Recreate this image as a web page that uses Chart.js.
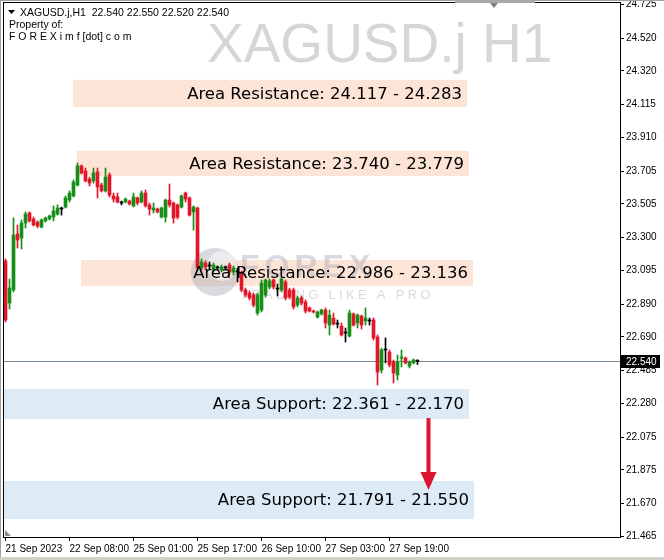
<!DOCTYPE html>
<html>
<head>
<meta charset="utf-8">
<title>XAGUSD.j H1</title>
<script src="https://cdn.jsdelivr.net/npm/chart.js@4.4.1/dist/chart.umd.min.js"></script>
<style>
  body { margin: 0; background: #fff; }
  #wrap { position: relative; width: 664px; height: 560px; }
</style>
</head>
<body>
<div id="wrap"><canvas id="chart"></canvas></div>
<script>
// H1 candles, oldest first (21 Sep 2023 16:00 -> 28 Sep 2023)
const openP = [
  23.155, 22.897, 22.977, 23.320, 23.295, 23.387, 23.449, 23.412, 23.393, 23.363,
  23.400, 23.412, 23.424, 23.442, 23.473, 23.485, 23.528, 23.553, 23.620, 23.737,
  23.706, 23.657, 23.645, 23.700, 23.620, 23.584, 23.681, 23.553, 23.547, 23.510,
  23.516, 23.522, 23.492, 23.541, 23.516, 23.571, 23.498, 23.467, 23.473, 23.424,
  23.424, 23.528, 23.510, 23.498, 23.485, 23.571, 23.541, 23.455, 23.479, 23.112,
  23.142, 23.124, 23.100, 23.112, 23.100, 23.112, 23.130, 23.087, 23.087, 23.081,
  22.977, 22.958, 22.946, 22.836, 22.854, 22.946, 22.995, 23.038, 22.983, 22.977,
  23.026, 22.977, 22.977, 22.885, 22.928, 22.903, 22.867, 22.848, 22.811, 22.830,
  22.854, 22.762, 22.805, 22.768, 22.756, 22.713, 22.695, 22.830, 22.775, 22.817,
  22.787, 22.787, 22.793, 22.689, 22.487, 22.609, 22.597, 22.536, 22.456, 22.560,
  22.560, 22.511, 22.530, 22.540
];
const highP = [
  23.167, 23.044, 23.418, 23.375, 23.406, 23.455, 23.455, 23.424, 23.400, 23.412,
  23.424, 23.436, 23.492, 23.498, 23.485, 23.553, 23.584, 23.651, 23.755, 23.743,
  23.724, 23.669, 23.724, 23.724, 23.632, 23.724, 23.694, 23.571, 23.571, 23.522,
  23.541, 23.528, 23.571, 23.547, 23.584, 23.590, 23.510, 23.510, 23.479, 23.485,
  23.534, 23.626, 23.516, 23.504, 23.559, 23.577, 23.547, 23.492, 23.485, 23.167,
  23.155, 23.148, 23.142, 23.124, 23.130, 23.124, 23.142, 23.124, 23.112, 23.093,
  22.989, 22.971, 22.958, 22.958, 23.038, 23.044, 23.044, 23.044, 23.013, 23.056,
  23.038, 22.989, 22.989, 22.940, 22.940, 22.916, 22.873, 22.854, 22.848, 22.860,
  22.867, 22.854, 22.836, 22.793, 22.775, 22.744, 22.854, 22.836, 22.830, 22.823,
  22.867, 22.805, 22.805, 22.701, 22.621, 22.683, 22.609, 22.548, 22.579, 22.609,
  22.566, 22.542, 22.554, 22.550
];
const lowP = [
  22.781, 22.860, 22.965, 23.234, 23.228, 23.357, 23.393, 23.369, 23.357, 23.357,
  23.393, 23.406, 23.400, 23.436, 23.436, 23.479, 23.516, 23.547, 23.614, 23.688,
  23.639, 23.614, 23.632, 23.541, 23.577, 23.577, 23.547, 23.516, 23.510, 23.498,
  23.510, 23.498, 23.485, 23.498, 23.510, 23.485, 23.436, 23.449, 23.449, 23.418,
  23.393, 23.485, 23.387, 23.412, 23.479, 23.516, 23.430, 23.344, 23.100, 23.100,
  23.100, 23.100, 23.087, 23.100, 23.087, 23.100, 23.069, 23.069, 23.026, 22.965,
  22.934, 22.916, 22.873, 22.823, 22.842, 22.934, 22.983, 22.983, 22.940, 22.965,
  22.916, 22.922, 22.860, 22.873, 22.885, 22.836, 22.842, 22.836, 22.805, 22.823,
  22.744, 22.701, 22.762, 22.744, 22.695, 22.658, 22.689, 22.756, 22.744, 22.738,
  22.762, 22.762, 22.670, 22.395, 22.468, 22.530, 22.505, 22.407, 22.425, 22.505,
  22.524, 22.499, 22.524, 22.520
];
const closeP = [
  22.793, 22.989, 23.314, 23.283, 23.387, 23.442, 23.400, 23.375, 23.369, 23.406,
  23.418, 23.430, 23.461, 23.479, 23.473, 23.541, 23.571, 23.639, 23.737, 23.694,
  23.645, 23.632, 23.694, 23.608, 23.584, 23.669, 23.559, 23.534, 23.516, 23.510,
  23.534, 23.504, 23.547, 23.510, 23.571, 23.492, 23.473, 23.479, 23.455, 23.479,
  23.528, 23.498, 23.418, 23.424, 23.553, 23.534, 23.436, 23.485, 23.112, 23.148,
  23.118, 23.124, 23.130, 23.112, 23.118, 23.112, 23.087, 23.112, 23.087, 22.977,
  22.946, 22.928, 22.885, 22.946, 23.020, 23.038, 23.032, 22.995, 22.983, 23.044,
  22.928, 22.934, 22.873, 22.928, 22.897, 22.848, 22.848, 22.842, 22.842, 22.854,
  22.775, 22.823, 22.768, 22.768, 22.701, 22.713, 22.836, 22.762, 22.823, 22.762,
  22.805, 22.787, 22.683, 22.474, 22.609, 22.609, 22.517, 22.468, 22.536, 22.566,
  22.530, 22.536, 22.548, 22.540
];
const barIndex = openP.map((_, i) => i);

// axis labels
const timeTickBars = [0, 16, 32, 48, 64, 80, 96];
const timeTickLabels = ['21 Sep 2023', '22 Sep 08:00', '25 Sep 01:00', '25 Sep 17:00',
  '26 Sep 10:00', '27 Sep 03:00', '27 Sep 19:00'];
const priceTicks = [24.725, 24.520, 24.320, 24.115, 23.910, 23.705, 23.505, 23.300, 23.095,
  22.890, 22.690, 22.485, 22.280, 22.075, 21.875, 21.670, 21.465];
const lastPrice = 22.540;

// support / resistance zones (bar range + price range as drawn)
const zoneText = ['Area Resistance: 24.117 - 24.283', 'Area Resistance: 23.740 - 23.779',
  'Area Resistance: 22.986 - 23.136', 'Area Support: 22.361 - 22.170', 'Area Support: 21.791 - 21.550'];
const zoneKind = ['res', 'res', 'res', 'sup', 'sup'];
const zoneStart = [16.875, 17.875, 18.875, -0.375, -0.375];
const zoneEnd = [115.375, 115.875, 116.875, 115.875, 117.125];
const zoneTop = [24.264, 23.829, 23.161, 22.370, 21.807];
const zoneBottom = [24.098, 23.675, 23.001, 22.186, 21.573];

// arrow from support 1 to support 2
const arrowBar = 105.75;
const arrowFrom = 22.192;
const arrowTo = 21.751;

const GREEN = '#178F17';
const RED = '#E3172A';
const candleColors = closeP.map((c, i) => c > openP[i] ? GREEN : (c < openP[i] ? RED : '#000000'));

const overlay = {
  id: 'overlay',
  beforeDatasetsDraw(chart) {
    const { ctx, chartArea: a, scales: { x, y } } = chart;
    ctx.save();
    // symbol watermark
    ctx.fillStyle = '#D6D6D6';
    ctx.font = '55px "Liberation Sans", Arial, sans-serif';
    ctx.textBaseline = 'alphabetic';
    ctx.textAlign = 'left';
    ctx.fillText('XAGUSD.j H1', 207, 62);

    // zones
    zoneText.forEach((t, i) => {
      const x0 = x.getPixelForValue(zoneStart[i]);
      const x1 = x.getPixelForValue(zoneEnd[i]);
      const y0 = y.getPixelForValue(zoneTop[i]);
      const y1 = y.getPixelForValue(zoneBottom[i]);
      ctx.fillStyle = zoneKind[i] === 'res' ? '#FCE4D6' : '#DDEBF7';
      ctx.fillRect(x0, y0, x1 - x0, y1 - y0);
    });

    // logo watermark in middle of the chart
    const cx = (a.left + a.right) / 2;
    const cy = (a.top + a.bottom) / 2;
    ctx.globalAlpha = 0.5;
    ctx.fillStyle = '#B4B4C0';
    ctx.beginPath();
    ctx.arc(cx - 97, cy + 2, 24, 0, Math.PI * 2);
    ctx.fill();
    ctx.fillStyle = '#FFFFFF';
    ctx.beginPath();
    ctx.arc(cx - 90, cy - 4, 15, 0, Math.PI * 2);
    ctx.fill();
    ctx.fillStyle = '#B4B4C0';
    ctx.font = 'bold 32px "Liberation Sans", Arial, sans-serif';
    let px = cx - 72;
    for (const ch of 'FOREX') {
      ctx.fillText(ch, px, cy + 7);
      px += ctx.measureText(ch).width + 5;
    }
    ctx.font = '13px "Liberation Sans", Arial, sans-serif';
    px = cx - 72;
    for (const ch of 'TRADING LIKE A PRO') {
      ctx.fillText(ch, px, cy + 29);
      px += ctx.measureText(ch).width + 3.3;
    }
    ctx.globalAlpha = 1;

    // last price line
    const yl = Math.round(y.getPixelForValue(lastPrice)) + 0.5;
    ctx.strokeStyle = '#7A8A99';
    ctx.lineWidth = 1;
    ctx.beginPath();
    ctx.moveTo(a.left, yl);
    ctx.lineTo(a.right, yl);
    ctx.stroke();
    ctx.restore();
  },
  afterDatasetsDraw(chart) {
    const { ctx, scales: { x, y } } = chart;
    ctx.save();
    // zone labels
    ctx.fillStyle = '#000';
    ctx.font = '16.5px "DejaVu Sans", sans-serif';
    ctx.textAlign = 'right';
    ctx.textBaseline = 'middle';
    zoneText.forEach((t, i) => {
      const x1 = x.getPixelForValue(zoneEnd[i]);
      const ym = (y.getPixelForValue(zoneTop[i]) + y.getPixelForValue(zoneBottom[i])) / 2;
      ctx.fillText(t, x1 - 5, ym + 1);
    });

    // red arrow
    const ax = x.getPixelForValue(arrowBar);
    const ay0 = y.getPixelForValue(arrowFrom);
    const ay1 = y.getPixelForValue(arrowTo);
    ctx.strokeStyle = '#DC1530';
    ctx.fillStyle = '#DC1530';
    ctx.lineWidth = 4;
    ctx.beginPath();
    ctx.moveTo(ax, ay0);
    ctx.lineTo(ax, ay1 - 14);
    ctx.stroke();
    ctx.beginPath();
    ctx.moveTo(ax - 8, ay1 - 18);
    ctx.lineTo(ax + 8, ay1 - 18);
    ctx.lineTo(ax, ay1);
    ctx.closePath();
    ctx.fill();
    ctx.restore();
  },
  afterDraw(chart) {
    const { ctx, chartArea: a, scales: { y } } = chart;
    ctx.save();
    // chart frame
    ctx.strokeStyle = '#000';
    ctx.lineWidth = 1;
    ctx.strokeRect(a.left - 0.5, a.top - 0.5, a.right - a.left + 1, a.bottom - a.top + 1);
    // window edges
    ctx.fillStyle = '#A0A0A0';
    ctx.fillRect(0, 0, 1, chart.height);
    ctx.fillRect(0, 0, chart.width, 1);
    ctx.fillStyle = '#D4D0C8';
    ctx.fillRect(0, 557, chart.width, 3);
    // one-click handle
    ctx.fillStyle = '#A8A8A8';
    ctx.fillRect(455, 0, 80, 3);
    ctx.beginPath();
    ctx.moveTo(490, 3); ctx.lineTo(498, 3); ctx.lineTo(494, 8); ctx.closePath();
    ctx.fillStyle = '#808080';
    ctx.fill();
    // chart shift marker
    ctx.beginPath();
    ctx.moveTo(a.left + 1, a.bottom - 7);
    ctx.lineTo(a.left + 1, a.bottom - 1);
    ctx.lineTo(a.left + 7, a.bottom - 1);
    ctx.closePath();
    ctx.fillStyle = '#8A8A8A';
    ctx.fill();

    // header
    ctx.fillStyle = '#000';
    ctx.beginPath();
    ctx.moveTo(8, 10); ctx.lineTo(15, 10); ctx.lineTo(11.5, 14); ctx.closePath();
    ctx.fill();
    ctx.font = '10.5px "Liberation Sans", Arial, sans-serif';
    ctx.textAlign = 'left';
    ctx.textBaseline = 'alphabetic';
    ctx.fillText('XAGUSD.j,H1  22.540 22.550 22.520 22.540', 20, 16);
    ctx.fillText('Property of:', 9, 28);
    ctx.fillText('F O R E X i m f [dot] c o m', 9, 40);

    // last price tag on the axis
    const yl = Math.round(y.getPixelForValue(lastPrice));
    ctx.fillStyle = '#000';
    ctx.font = '10px "Liberation Sans", Arial, sans-serif';
    ctx.fillRect(a.right + 1, yl - 6, 39, 13);
    ctx.fillStyle = '#fff';
    ctx.textBaseline = 'middle';
    ctx.fillText(lastPrice.toFixed(3), a.right + 6, yl + 1);
    ctx.restore();
  }
};

new Chart(document.getElementById('chart'), {
  type: 'bar',
  data: {
    datasets: [
      {
        label: 'wick',
        data: barIndex.map(i => ({ x: i, y: [lowP[i], highP[i]] })),
        backgroundColor: candleColors,
        barThickness: 1,
        minBarLength: 1,
        grouped: false
      },
      {
        label: 'body',
        data: barIndex.map(i => ({ x: i, y: [openP[i], closeP[i]] })),
        backgroundColor: candleColors,
        barThickness: 3,
        minBarLength: 1,
        grouped: false
      }
    ]
  },
  options: {
    responsive: true,
    maintainAspectRatio: false,
    animation: false,
    devicePixelRatio: 1,
    layout: { padding: { left: 4, top: 3, right: 0, bottom: 0 } },
    plugins: { legend: { display: false }, tooltip: { enabled: false } },
    scales: {
      x: {
        type: 'linear',
        position: 'bottom',
        offset: false,
        min: -0.375,
        max: 153.625,
        afterBuildTicks: s => { s.ticks = timeTickBars.map(v => ({ value: v })); },
        afterFit: s => { s.height = 23; s.paddingLeft = 0; s.paddingRight = 0; },
        ticks: {
          autoSkip: false,
          maxRotation: 0,
          align: 'start',
          padding: 2,
          color: '#000',
          font: { family: 'Liberation Sans', size: 10 },
          callback: (v, i) => timeTickLabels[i]
        },
        grid: { drawOnChartArea: false, offset: false, tickLength: 4, color: '#000' },
        border: { color: '#000' }
      },
      y: {
        type: 'linear',
        position: 'right',
        min: 21.4633,
        max: 24.7354,
        afterBuildTicks: s => { s.ticks = priceTicks.map(v => ({ value: v })); },
        afterFit: s => { s.width = 44; s.paddingTop = 0; s.paddingBottom = 0; },
        ticks: {
          autoSkip: false,
          padding: 2,
          color: '#000',
          font: { family: 'Liberation Sans', size: 10 },
          callback: v => v.toFixed(3)
        },
        grid: { drawOnChartArea: false, tickLength: 4, color: '#000' },
        border: { color: '#000' }
      }
    }
  },
  plugins: [overlay]
});
</script>
</body>
</html>
